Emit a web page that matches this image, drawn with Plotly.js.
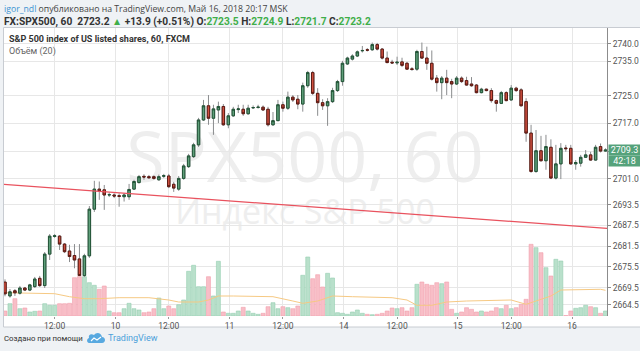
<!DOCTYPE html>
<html><head><meta charset="utf-8">
<script src="https://cdn.plot.ly/plotly-3.0.1.min.js"></script>
<style>html,body{margin:0;padding:0;background:#eff2f5;}#chart{width:640px;height:351px;}</style>
</head><body><div id="chart"></div>
<script>
// ---- data (hourly candles, index 0 = first visible) ----
const openP = [2671.1,2667.1,2668.6,2667.9,2669.4,2668.8,2669.8,2672.2,2670.1,2679.2,2684.3,2684.4,2682.1,2680.1,2678.8,2677.8,2673.0,2678.7,2692.2,2698.0,2697.8,2696.3,2696.3,2696.1,2695.8,2695.8,2698.0,2699.9,2701.7,2701.6,2701.6,2700.7,2701.7,2701.8,2699.4,2698.0,2701.1,2704.5,2707.4,2710.8,2718.0,2722.1,2718.5,2720.9,2721.9,2716.6,2719.2,2721.0,2721.1,2719.8,2721.5,2721.6,2721.7,2721.1,2716.6,2717.8,2722.4,2721.4,2724.6,2724.0,2722.6,2727.9,2731.7,2725.7,2723.0,2722.1,2723.3,2726.5,2729.1,2734.2,2735.6,2736.5,2738.0,2738.3,2738.3,2739.8,2738.5,2735.9,2734.7,2734.5,2734.8,2734.4,2732.8,2732.7,2737.8,2735.9,2734.4,2730.1,2728.8,2730.1,2729.1,2728.4,2730.1,2729.4,2728.4,2728.1,2725.9,2726.9,2726.5,2723.6,2722.8,2725.9,2723.8,2727.2,2726.7,2723.3,2714.2,2703.1,2709.1,2706.2,2710.1,2701.2,2705.3,2709.9,2709.8,2705.3,2705.5,2707.2,2707.9,2706.4,2710.3,2709.0];
const highP = [2671.9,2669.1,2669.1,2670.0,2669.7,2670.6,2672.6,2672.9,2679.8,2685.0,2685.0,2684.7,2682.4,2681.9,2682.1,2682.1,2679.3,2693.1,2700.4,2700.2,2699.2,2697.0,2696.8,2696.8,2696.8,2699.5,2700.7,2702.1,2702.3,2702.1,2702.0,2702.2,2702.4,2702.4,2700.1,2701.8,2705.3,2708.2,2711.4,2718.6,2723.8,2725.2,2722.4,2723.3,2722.6,2720.0,2721.8,2722.4,2722.4,2722.4,2722.2,2722.4,2722.2,2721.8,2720.3,2723.8,2723.3,2726.2,2725.2,2725.2,2728.8,2732.2,2732.2,2727.2,2724.0,2724.3,2727.3,2729.6,2735.1,2736.3,2737.0,2738.1,2739.4,2738.8,2740.4,2740.3,2738.8,2737.8,2735.4,2736.3,2736.0,2734.8,2733.3,2738.3,2740.4,2739.2,2738.1,2731.0,2730.7,2732.5,2729.9,2730.7,2730.6,2730.5,2730.4,2728.4,2727.3,2727.1,2727.2,2723.9,2726.4,2726.3,2728.1,2727.6,2727.2,2724.3,2716.6,2715.1,2713.4,2713.7,2712.4,2710.8,2711.3,2710.8,2710.8,2706.4,2707.9,2709.3,2708.8,2710.8,2711.2,2709.8];
const lowP = [2667.0,2666.6,2667.1,2667.5,2668.5,2668.5,2669.4,2669.7,2669.4,2677.5,2683.9,2680.4,2679.5,2676.9,2675.1,2672.9,2672.6,2678.1,2691.4,2694.9,2692.0,2695.7,2695.4,2692.9,2694.4,2694.9,2697.8,2699.6,2700.7,2701.0,2700.7,2700.4,2701.2,2698.3,2697.2,2697.5,2700.7,2704.1,2707.0,2710.2,2717.7,2716.6,2713.7,2717.1,2716.3,2715.6,2718.9,2720.0,2719.2,2719.5,2721.2,2721.3,2720.6,2716.1,2716.3,2717.7,2720.4,2720.9,2723.2,2721.1,2720.4,2727.3,2725.2,2719.2,2720.9,2716.3,2722.9,2726.1,2727.9,2733.9,2735.2,2736.2,2737.5,2737.8,2738.0,2738.1,2735.5,2734.4,2734.2,2733.9,2733.3,2732.5,2732.2,2732.2,2735.7,2732.5,2729.4,2726.2,2724.0,2725.2,2724.3,2728.1,2728.7,2727.9,2727.6,2725.7,2725.7,2726.3,2723.0,2720.4,2722.6,2723.4,2723.5,2726.1,2721.9,2711.7,2702.7,2702.7,2706.0,2703.6,2700.9,2700.8,2700.9,2708.8,2705.0,2703.6,2704.5,2707.0,2706.2,2706.2,2708.6,2708.8];
const closeP = [2667.7,2668.3,2668.0,2669.4,2668.8,2670.3,2672.0,2670.1,2679.2,2684.4,2684.5,2682.1,2679.9,2678.5,2677.5,2673.0,2678.7,2692.2,2698.0,2697.5,2696.3,2696.4,2696.0,2695.9,2696.3,2697.9,2700.2,2701.6,2701.5,2701.3,2701.1,2701.6,2701.9,2698.7,2698.3,2701.1,2704.7,2707.6,2710.8,2718.0,2722.1,2718.5,2721.2,2721.9,2716.6,2719.2,2721.1,2721.2,2719.8,2721.4,2721.6,2721.7,2720.9,2716.6,2717.8,2722.4,2721.4,2724.6,2723.8,2722.6,2727.9,2731.7,2725.7,2723.0,2722.1,2723.3,2726.5,2729.1,2734.4,2735.9,2736.5,2737.7,2738.1,2738.2,2739.8,2738.5,2735.9,2734.6,2734.5,2734.7,2733.8,2732.7,2732.6,2737.8,2735.9,2734.4,2729.8,2728.8,2730.1,2728.8,2728.4,2730.1,2729.1,2728.1,2727.9,2725.9,2726.9,2726.5,2723.6,2722.8,2725.9,2723.6,2727.2,2726.5,2722.1,2714.2,2703.1,2709.1,2706.2,2710.3,2701.2,2705.3,2709.8,2709.7,2705.3,2705.7,2707.2,2707.9,2706.4,2710.1,2709.0,2709.3];
const volume = [500,1230,1730,730,800,400,470,500,1230,1070,1070,1230,1230,1270,3830,3930,3930,3330,3070,2670,3000,500,330,330,730,1270,730,600,330,400,730,1800,730,1000,730,1130,1600,4470,5070,2930,2930,3930,2000,5470,400,270,270,500,870,500,270,170,270,930,1330,730,930,830,730,1000,4070,5900,3730,4130,2900,4270,3800,330,270,170,400,600,270,170,130,170,270,500,800,730,830,500,830,3170,3400,3170,3070,3330,3230,3400,670,270,400,830,670,400,500,400,500,830,730,1070,730,830,1170,1670,7170,6830,6330,4830,4000,5670,5500,50,500,770,830,1070,930,830,270,500];
// volume moving average (20), read at points along the line
const maIndex = [0,5,10,13,16,19,23,29,31,33,35,39,41,43,46,54,58,60,63,66,70,78,81,83,86,89,93,102,105,108,110,112,120,121];
const maValue = [2330,2300,2230,1930,1730,1730,1830,1830,1730,1600,1400,1400,1600,2000,2000,1930,1500,1270,1500,2000,1930,1830,1600,1070,1070,1400,1500,1600,1170,1670,2000,2600,2670,2570];
// trend line drawn on the chart (index, price)
const trendIndex = [-2, 124];
const trendPrice = [2699.55, 2686.35];
// axis ticks
const timeTickIdx = [10,22.25,33,45.25,56,68.25,79,91.25,102,114.25];
const timeTickText = ['12:00','10','12:00','11','12:00','14','12:00','15','12:00','16'];
const priceTicks = [2664.5,2669.5,2675.5,2681.5,2687.5,2693.5,2701.0,2709.0,2717.0,2725.0,2735.0,2740.0];
const priceTickText = ['2664.5','2669.5','2675.5','2681.5','2687.5','2693.5','2701.0','','2717.0','2725.0','2735.0','2740.0'];
const lastPrice = 2709.3;
const countdown = '42:18';

// ---- layout geometry (pixels) ----
const L = 4, T = 28, R = 607, B = 316;
const PW = R - L, PH = B - T;
const X = px => (px - L) / PW;
const Y = py => (B - py) / PH;

const idx = openP.map((_, i) => i);
const bodyHi = openP.map((o, i) => Math.max(o, closeP[i]));
const bodyLo = openP.map((o, i) => Math.min(o, closeP[i]));
const up = closeP.map((c, i) => c >= openP[i]);

const FONT = 'Roboto, Open Sans, sans-serif';
const WFONT = 'Open Sans, sans-serif';

const traces = [
  { type: 'bar', x: idx, y: volume, xaxis: 'x', yaxis: 'y', hoverinfo: 'skip',
    marker: { color: up.map(u => u ? '#b9e0cb' : '#f8bec7'),
              line: { color: up.map(u => u ? '#93cfb0' : '#f19fac'), width: 0.6 } } },
  { type: 'scatter', mode: 'lines', x: maIndex, y: maValue, xaxis: 'x', yaxis: 'y', hoverinfo: 'skip',
    line: { color: '#f6c983', width: 1 } },
  { type: 'candlestick', x: idx, open: openP, high: highP, low: lowP, close: closeP,
    xaxis: 'x', yaxis: 'y2', hoverinfo: 'skip',
    increasing: { line: { color: '#8a8c8e', width: 1 }, fillcolor: '#5f9f7a' },
    decreasing: { line: { color: '#8a8c8e', width: 1 }, fillcolor: '#d05040' } },
  { type: 'candlestick', x: idx, open: openP, high: bodyHi, low: bodyLo, close: closeP,
    xaxis: 'x', yaxis: 'y2', hoverinfo: 'skip',
    increasing: { line: { color: '#225437', width: 1 }, fillcolor: '#5f9f7a' },
    decreasing: { line: { color: '#5b1a13', width: 1 }, fillcolor: '#d05040' } },
  { type: 'scatter', mode: 'lines', x: trendIndex, y: trendPrice, xaxis: 'x', yaxis: 'y2', hoverinfo: 'skip',
    line: { color: '#e9525e', width: 1.3 } }
];

const green = '#3fae49';
const g = s => '<span style="color:' + green + '">' + s + '</span>';
const layout = {
  width: 640, height: 351,
  margin: { l: L, r: 640 - R, t: T, b: 351 - B, pad: 0 },
  paper_bgcolor: '#eff2f5', plot_bgcolor: 'rgba(0,0,0,0)',
  showlegend: false, dragmode: false,
  font: { family: FONT, color: '#333' },
  xaxis: { range: [-0.2, 121.3], tickmode: 'array', tickvals: timeTickIdx, ticktext: timeTickText,
           showgrid: true, gridcolor: '#e7e7e7', gridwidth: 1, zeroline: false, showline: false,
           ticks: 'outside', ticklen: 2, tickcolor: '#999', tickfont: { size: 8.5, color: '#555' },
           rangeslider: { visible: false }, fixedrange: true },
  yaxis: { range: [0, 28800], visible: false, fixedrange: true },
  yaxis2: { overlaying: 'y', side: 'right', anchor: 'x', range: [2661.3, 2744.6],
            tickmode: 'array', tickvals: priceTicks, ticktext: priceTickText,
            showgrid: true, gridcolor: '#e7e7e7', zeroline: false, showline: true, linecolor: '#8c8c8c',
            ticks: 'outside', ticklen: 3, tickcolor: '#8c8c8c', tickfont: { size: 8.5, color: '#555' },
            fixedrange: true },
  shapes: [
    { type: 'rect', xref: 'paper', yref: 'paper', x0: X(3.5), x1: X(641), y0: Y(327), y1: Y(27.5),
      fillcolor: '#ffffff', line: { color: '#c8ccd2', width: 1 }, layer: 'below' },
    { type: 'rect', xref: 'paper', yref: 'paper', x0: X(110), x1: X(500), y0: Y(195), y1: Y(125),
      fillcolor: 'rgba(0,0,0,0)', line: { width: 0 }, layer: 'below',
      label: { text: 'SPX500, 60', textposition: 'middle center', font: { size: 70, color: '#eeeeee', family: WFONT } } },
    { type: 'rect', xref: 'paper', yref: 'paper', x0: X(150), x1: X(460), y0: Y(232), y1: Y(194),
      fillcolor: 'rgba(0,0,0,0)', line: { width: 0 }, layer: 'below',
      label: { text: 'Индекс S&amp;P 500', textposition: 'middle center', font: { size: 34, color: '#eeeeee', family: WFONT } } },
    { type: 'path', xref: 'paper', yref: 'paper', xsizemode: 'pixel', ysizemode: 'pixel',
      xanchor: X(96), yanchor: Y(338),
      path: 'M -7,-5 L 6,-5 C 10,-5 10,1 6,1 C 5,6 0,6 -2,3 C -5,5 -8,3 -7,0 C -10,-1 -9,-5 -7,-5 Z',
      fillcolor: '#58a9e0', line: { width: 0 } },
    { type: 'path', xref: 'paper', yref: 'paper', xsizemode: 'pixel', ysizemode: 'pixel',
      xanchor: X(96), yanchor: Y(338),
      path: 'M -5,-3 L -2,0 L 1,-2 L 5,1', fillcolor: 'rgba(0,0,0,0)', line: { color: '#ffffff', width: 1.1 } }
  ],
  annotations: [
    { xref: 'paper', yref: 'paper', x: X(3), y: Y(9.5), xanchor: 'left', yanchor: 'middle',
      showarrow: false, borderpad: 0, font: { size: 8.7, color: '#444', family: WFONT },
      text: '<span style="color:#3d94d2">igor_ndl</span> опубликовано на TradingView.com, Май 16, 2018 20:17 MSK' },
    { xref: 'paper', yref: 'paper', x: X(3), y: Y(22), xanchor: 'left', yanchor: 'middle',
      showarrow: false, borderpad: 0, font: { size: 10.2, color: '#333' },
      text: '<b>FX:SPX500, 60\u00a0 2723.2 ' + g('▲') + ' +13.9 (+0.51%) O:' + g('2723.5') + ' H:' + g('2724.9') + ' L:' + g('2721.7') + ' C:' + g('2723.2') + '</b>' },
    { xref: 'paper', yref: 'paper', x: X(8), y: Y(39), xanchor: 'left', yanchor: 'middle', showarrow: false, borderpad: 0,
      font: { size: 9, color: '#333' }, text: '<b>S&amp;P 500 index of US listed shares, 60, FXCM</b>' },
    { xref: 'paper', yref: 'paper', x: X(8), y: Y(51), xanchor: 'left', yanchor: 'middle', showarrow: false, borderpad: 0,
      font: { size: 9, color: '#666' }, text: 'Объём (20)' },
    { xref: 'paper', yref: 'y2', x: 1, y: lastPrice, xanchor: 'left', yanchor: 'middle', xshift: 1, showarrow: false,
      text: lastPrice.toFixed(1), bgcolor: '#55a27b', font: { size: 9, color: '#ffffff' }, width: 31, height: 10, borderpad: 0 },
    { xref: 'paper', yref: 'y2', x: 1, y: lastPrice, xanchor: 'left', yanchor: 'middle', xshift: 1, yshift: -11, showarrow: false,
      text: countdown, bgcolor: '#55a27b', font: { size: 9, color: '#ffffff' }, width: 31, height: 10, borderpad: 0 },
    { xref: 'paper', yref: 'paper', x: X(3), y: Y(338), xanchor: 'left', yanchor: 'middle', showarrow: false, borderpad: 0,
      font: { size: 7.8, color: '#333' }, text: 'Создано при помощи' },
    { xref: 'paper', yref: 'paper', x: X(107), y: Y(338), xanchor: 'left', yanchor: 'middle', showarrow: false, borderpad: 0,
      font: { size: 9, color: '#4aa0da' }, text: 'TradingView' }
  ]
};

Plotly.newPlot('chart', traces, layout, { staticPlot: true, displayModeBar: false });
</script></body></html>
